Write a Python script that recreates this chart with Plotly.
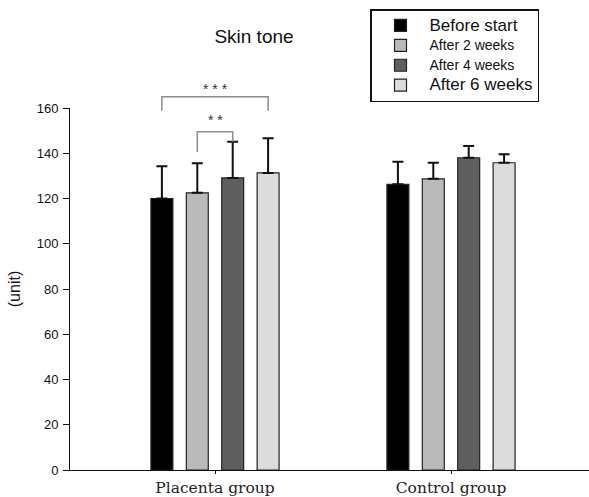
import plotly.graph_objects as go

# ---- data ----
groups = ["Placenta group", "Control group"]
series_names = ["Before start", "After 2 weeks", "After 4 weeks", "After 6 weeks"]
before_start = [120.0, 126.3]
after_2_weeks = [122.5, 128.7]
after_4_weeks = [129.1, 138.0]
after_6_weeks = [131.3, 135.8]
sd_before_start = [14.3, 9.9]
sd_after_2_weeks = [13.1, 7.1]
sd_after_4_weeks = [16.0, 5.2]
sd_after_6_weeks = [15.3, 3.8]
y_ticks = [0, 20, 40, 60, 80, 100, 120, 140, 160]

# significance brackets: (group, bar_from, bar_to, top, left_end, right_end, label, label_y)
brackets = [
    (0, 0, 3, 165.0, 158.8, 158.8, "* * *", 168.3),
    (0, 1, 2, 149.5, 140.6, 145.1, "* *", 154.9),
]

means = [before_start, after_2_weeks, after_4_weeks, after_6_weeks]
sds = [sd_before_start, sd_after_2_weeks, sd_after_4_weeks, sd_after_6_weeks]

# ---- style ----
colors = ["#000000", "#bababa", "#5f5f5f", "#dcdcdc"]
legend_sizes = [17, 14, 14, 17]
BARGAP = 0.40
BARGROUPGAP = 0.38
W, H = 589, 497
ML, MR, MT, MB = 70, 0, 20, 27
plot_w = W - ML - MR
plot_h = H - MT - MB
Y_TOP_FRAC = (470 - 108) / plot_h  # domain of main y axis
PX_PER_GROUP = 236.0
X_RANGE = [-(215 - ML) / PX_PER_GROUP, 1 + (W - MR - 451) / PX_PER_GROUP]
SANS = "Arial, Liberation Sans, sans-serif"

fig = go.Figure()
xg = list(range(len(groups)))
for name, m, s, c, fs in zip(series_names, means, sds, colors, legend_sizes):
    fig.add_trace(go.Bar(
        x=xg, y=m, name=f'<span style="font-size:{fs}px">{name}</span>',
        marker=dict(color=c, line=dict(color="#222222", width=1.2)),
        error_y=dict(type="data", symmetric=False, array=s, arrayminus=[0] * len(s),
                     color="#111111", thickness=2, width=5.5),
        hoverinfo="skip",
    ))

slot = (1 - BARGAP) / len(series_names)


def bar_x(g, i):
    return g + (i - (len(series_names) - 1) / 2) * slot


for g, i, j, top, lb, rb, label, ly in brackets:
    x0, x1 = bar_x(g, i), bar_x(g, j)
    fig.add_trace(go.Scatter(
        x=[x0, x0, x1, x1], y=[lb, top, top, rb], mode="lines",
        line=dict(color="#8c8c8c", width=1.5), showlegend=False,
        hoverinfo="skip", xaxis="x", yaxis="y2",
    ))
    fig.add_annotation(x=(x0 + x1) / 2, y=ly, xref="x", yref="y2", text=label,
                       showarrow=False, font=dict(family=SANS, size=14, color="#333333"))

fig.update_layout(
    width=W, height=H,
    margin=dict(l=ML, r=MR, t=MT, b=MB),
    paper_bgcolor="white", plot_bgcolor="rgba(0,0,0,0)",
    barmode="group", bargap=BARGAP, bargroupgap=BARGROUPGAP,
    font=dict(family=SANS, size=13, color="#111111"),
    title=dict(text="Skin tone", x=(254 - ML) / plot_w, xanchor="center",
               xref="paper", y=1 - 36 / H, yanchor="middle",
               font=dict(family=SANS, size=19, color="#111111")),
    xaxis=dict(range=X_RANGE, tickvals=xg, ticktext=groups,
               showline=True, linecolor="#111111", linewidth=1,
               ticks="outside", ticklen=3, tickcolor="#111111",
               showgrid=False, zeroline=False,
               tickfont=dict(family="DejaVu Serif, serif", size=15.5, color="#222222"),
               anchor="y"),
    yaxis=dict(range=[0, 160], domain=[0, Y_TOP_FRAC], tickvals=y_ticks,
               showline=True, linecolor="#111111", linewidth=1,
               ticks="outside", ticklen=6, tickcolor="#111111",
               showgrid=False, zeroline=False, ticklabelstandoff=2,
               tickfont=dict(family=SANS, size=13, color="#111111"),
               title=dict(text="(unit)", standoff=12, font=dict(family=SANS, size=16))),
    yaxis2=dict(range=[0, 160 / Y_TOP_FRAC], domain=[0, 1], visible=False,
                anchor="x", showgrid=False, zeroline=False),
    legend=dict(x=(370 - ML) / plot_w, xanchor="left",
                y=(470 - 9) / plot_h, yanchor="top",
                bgcolor="white", bordercolor="#111111", borderwidth=1.5,
                font=dict(family=SANS, size=13, color="#111111"),
                itemwidth=48, tracegroupgap=0),
    showlegend=True,
)

fig.write_html("out.html")
